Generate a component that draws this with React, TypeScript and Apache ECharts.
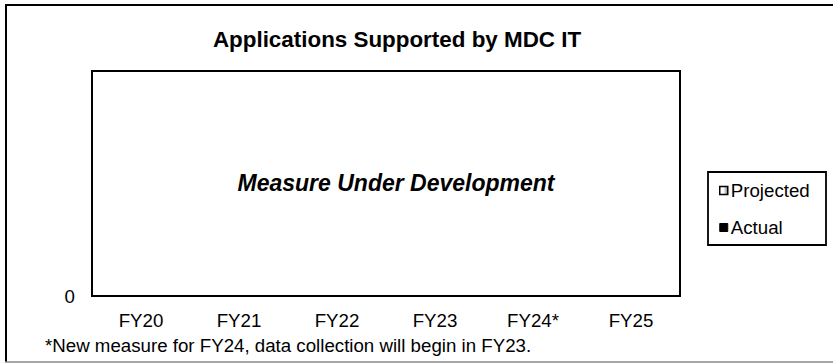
import React, { useEffect, useRef } from "react";
import * as echarts from "echarts";

const categories = ["FY20", "FY21", "FY22", "FY23", "FY24*", "FY25"];
const projectedValues: (number | null)[] = [null, null, null, null, null, null];
const actualValues: (number | null)[] = [null, null, null, null, null, null];
const yTicks = [0];

const chartTitle = "Applications Supported by MDC IT";
const centerNote = "Measure Under Development";
const footNote = "*New measure for FY24, data collection will begin in FY23.";
const FONT = "'Liberation Sans', Arial, sans-serif";

export default function App() {
  const ref = useRef<HTMLDivElement>(null);
  useEffect(() => {
    if (!ref.current) return;
    const chart = echarts.init(ref.current, null, { renderer: "svg" });
    const projGrad = new echarts.graphic.LinearGradient(0, 0, 1, 0, [
      { offset: 0, color: "#ffffff" },
      { offset: 0.45, color: "#ffffff" },
      { offset: 1, color: "#808080" },
    ]);
    chart.setOption({
      animation: false,
      backgroundColor: "#ffffff",
      textStyle: { fontFamily: FONT },
      grid: {
        left: 92,
        top: 71,
        width: 588,
        height: 225,
        show: true,
        borderColor: "#000",
        borderWidth: 2,
        containLabel: false,
      },
      legend: {
        orient: "vertical",
        left: 719,
        top: 181,
        itemGap: 18,
        itemWidth: 8,
        itemHeight: 8,
        padding: 0,
        textStyle: { fontSize: 18.7, color: "#000", fontFamily: FONT, padding: [0, 0, 0, -2] },
        data: [
          { name: "Projected", icon: "rect", itemStyle: { color: projGrad, borderColor: "#000", borderWidth: 1.5 } },
          { name: "Actual", icon: "rect", itemStyle: { color: "#000", borderColor: "#000", borderWidth: 1 } },
        ],
      },
      xAxis: {
        type: "category",
        data: categories,
        axisLine: { show: true, lineStyle: { color: "#000", width: 2 } },
        axisTick: { show: false },
        axisLabel: { fontSize: 18.7, color: "#000", margin: 15, fontFamily: FONT },
        splitLine: { show: false },
      },
      yAxis: {
        type: "value",
        min: 0,
        max: 1,
        interval: 1,
        axisLine: { show: false },
        axisTick: { show: false },
        splitLine: { show: false },
        axisLabel: {
          fontSize: 18.7,
          color: "#000",
          margin: 17,
          fontFamily: FONT,
          formatter: (v: number) => (yTicks.includes(v) ? String(v) : ""),
        },
      },
      series: [
        { name: "Projected", type: "bar", data: projectedValues, itemStyle: { color: projGrad, borderColor: "#000" } },
        { name: "Actual", type: "bar", data: actualValues, itemStyle: { color: "#000" } },
      ],
      graphic: [
        { type: "line", shape: { x1: 5, y1: 5, x2: 833, y2: 5 }, style: { stroke: "#000", lineWidth: 2 } },
        { type: "line", shape: { x1: 6, y1: 4, x2: 6, y2: 362 }, style: { stroke: "#000", lineWidth: 2 } },
        { type: "line", shape: { x1: 5, y1: 362, x2: 833, y2: 362 }, style: { stroke: "#888", lineWidth: 1.5 } },
        { type: "rect", shape: { x: 708, y: 172, width: 118, height: 73 }, style: { fill: "none", stroke: "#000", lineWidth: 1.8 } },
        {
          type: "text",
          x: 397,
          y: 39,
          style: { text: chartTitle, font: `bold 22.4px ${FONT}`, fill: "#000", textAlign: "center", textVerticalAlign: "middle" },
        },
        {
          type: "text",
          x: 396,
          y: 183,
          style: { text: centerNote, font: `italic bold 23px ${FONT}`, fill: "#000", textAlign: "center", textVerticalAlign: "middle" },
        },
        {
          type: "text",
          x: 45,
          y: 345,
          style: { text: footNote, font: `18.7px ${FONT}`, fill: "#000", textAlign: "left", textVerticalAlign: "middle" },
        },
      ],
    });
    return () => chart.dispose();
  }, []);
  return <div ref={ref} style={{ position: "fixed", left: 0, top: 0, width: 833, height: 363 }} />;
}
